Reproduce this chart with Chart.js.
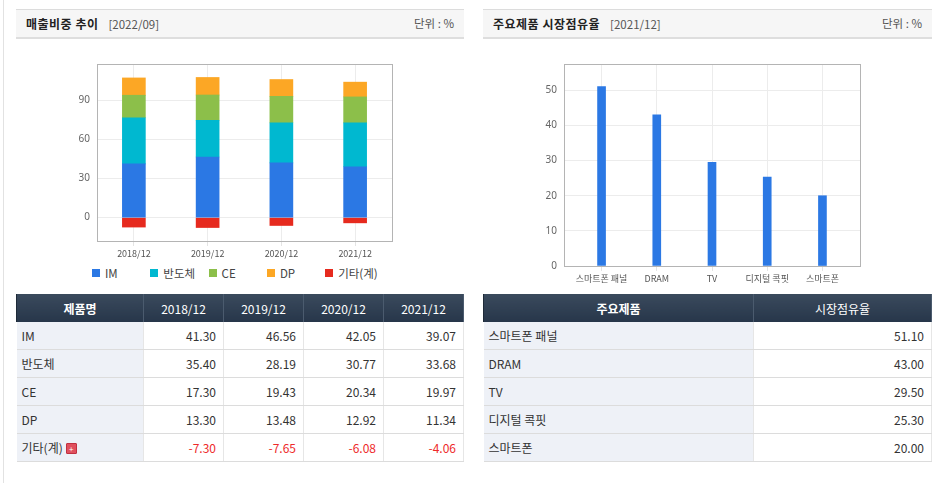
<!DOCTYPE html>
<html>
<head>
<meta charset="utf-8">
<script src="https://cdn.jsdelivr.net/npm/chart.js@4"></script>
<style>
  body { margin: 0; width: 940px; height: 483px; background: #fff; position: relative; overflow: hidden;
         font-family: "Noto Sans CJK KR", "Noto Sans", sans-serif; color: #333; }
  .edge { position: absolute; left: 3px; top: 0; width: 1px; height: 483px; background: #e2e2e2; }
  .head { position: absolute; top: 9px; height: 27px; background: #f6f6f6;
          border-top: 1px solid #dcdcdc; border-bottom: 2px solid #dedede; }
  .head .t { position: absolute; left: 10px; top: 5px; font-size: 12px; font-weight: bold; color: #222; letter-spacing: 0.5px; }
  .head .d { font-weight: normal; color: #555; font-size: 11.5px; margin-left: 10px; letter-spacing: 0; }
  .head .u { position: absolute; right: 10px; top: 5px; font-size: 11.5px; color: #555; }
  canvas { position: absolute; }
  .legend { position: absolute; top: 265px; left: 92px; height: 16px; display: flex; }
  .legend div { width: 58.3px; font-size: 11.5px; color: #444; display: flex; align-items: center; white-space: nowrap; }
  .legend span { display: inline-block; width: 8px; height: 8px; margin-right: 5px; }
  table { position: absolute; top: 294px; border-collapse: collapse; font-size: 12px; }
  th { height: 28px; padding: 0; color: #fff; font-weight: normal; background: linear-gradient(#3a4a5d, #27364a);
       border-left: 1px solid #1e2a38; border-right: 1px solid #4b5b6e; font-size: 12px; }
  th.b { font-weight: bold; }
  td { height: 27px; padding: 0 7px; border-bottom: 1px solid #dcdcdc; border-right: 1px solid #e6e6e6; text-align: right; background: #fff; }
  td.n { text-align: left; background: #eef1f7; padding-left: 5px; }
  td.neg { color: #ee2a2a; }
  .plus { display: inline-block; width: 9px; height: 9px; background: #e0505e; border: 1px solid #c03040; color: #fff;
          font-size: 8px; line-height: 9px; text-align: center; vertical-align: 1px; margin-left: 3px; border-radius: 1px; }
</style>
</head>
<body>
<div class="edge"></div>

<div class="head" style="left:16px;width:448px;">
  <div class="t">매출비중 추이<span class="d">[2022/09]</span></div>
  <div class="u">단위 : %</div>
</div>
<div class="head" style="left:483px;width:449px;">
  <div class="t">주요제품 시장점유율<span class="d">[2021/12]</span></div>
  <div class="u">단위 : %</div>
</div>

<canvas id="mix" style="left:16px;top:44px;width:448px;height:220px;" width="448" height="220"></canvas>
<div class="legend" id="mixLegend"></div>
<canvas id="share" style="left:483px;top:44px;width:449px;height:245px;" width="449" height="245"></canvas>

<table id="mixTable" style="left:16px;width:448px;"></table>
<table id="shareTable" style="left:483px;width:449px;"></table>

<script>
// 매출비중 추이
const periods = ['2018/12', '2019/12', '2020/12', '2021/12'];
const segmentNames = ['IM', '반도체', 'CE', 'DP', '기타(계)'];
const imValues = [41.30, 46.56, 42.05, 39.07];
const semiValues = [35.40, 28.19, 30.77, 33.68];
const ceValues = [17.30, 19.43, 20.34, 19.97];
const dpValues = [13.30, 13.48, 12.92, 11.34];
const etcValues = [-7.30, -7.65, -6.08, -4.06];
const segmentColors = ['#2b78e4', '#00b8d0', '#8cbf4a', '#fca725', '#e62a1e'];
const mixTicks = [0, 30, 60, 90];

// 주요제품 시장점유율
const products = ['스마트폰 패널', 'DRAM', 'TV', '디지털 콕핏', '스마트폰'];
const shareValues = [51.10, 43.00, 29.50, 25.30, 20.00];
const shareTicks = [0, 10, 20, 30, 40, 50];

const frame = {
  id: 'frame',
  afterDatasetsDraw(chart) {
    const a = chart.chartArea, c = chart.ctx;
    c.save();
    c.strokeStyle = '#b4b4b4';
    c.lineWidth = 1;
    c.strokeRect(Math.round(a.left) + 0.5, Math.round(a.top) + 0.5, Math.round(a.right - a.left), Math.round(a.bottom - a.top));
    c.restore();
  }
};

const xGrid = { offset: false, color: '#ececec', tickLength: 5, tickColor: '#e4e4e4' };
const xTickFont = { size: 9, family: 'Noto Sans CJK KR' };

function yAxis(min, max, ticks) {
  return {
    stacked: true, min: min, max: max,
    afterBuildTicks: s => { s.ticks = ticks.map(v => ({ value: v })); },
    grid: { color: '#ececec', drawTicks: false },
    border: { display: false },
    ticks: { color: '#666', font: { size: 10, family: 'Noto Sans' }, padding: 7 },
    afterFit: s => { s.width = 30; }
  };
}

const common = {
  responsive: false,
  animation: false,
  plugins: { legend: { display: false }, tooltip: { enabled: false } },
  layout: { padding: { left: 51, right: 72, top: 20, bottom: 0 } }
};

const mixSeries = [imValues, semiValues, ceValues, dpValues, etcValues];
new Chart(document.getElementById('mix'), {
  type: 'bar',
  data: {
    labels: periods,
    datasets: mixSeries.map((d, i) => ({
      label: segmentNames[i], data: d, backgroundColor: segmentColors[i], barThickness: 23, borderWidth: 0
    }))
  },
  options: Object.assign({}, common, {
    scales: {
      x: {
        stacked: true, grid: xGrid, border: { display: false },
        ticks: { color: '#555', font: xTickFont, padding: 2, maxRotation: 0, autoSkip: false },
        afterFit: s => { s.height = 23; }
      },
      y: yAxis(-18, 118, mixTicks)
    }
  }),
  plugins: [frame]
});

// 오른쪽 차트는 양끝 여백이 넓어서 선형 x축에 인덱스로 배치
new Chart(document.getElementById('share'), {
  type: 'bar',
  data: {
    datasets: [{
      label: '시장점유율',
      data: shareValues.map((v, i) => ({ x: i, y: v })),
      backgroundColor: '#2b78e4', barThickness: 8, borderWidth: 0
    }]
  },
  options: Object.assign({}, common, {
    scales: {
      x: {
        type: 'linear', offset: false, min: -0.68, max: products.length - 1 + 0.68,
        afterBuildTicks: s => { s.ticks = products.map((p, i) => ({ value: i })); },
        grid: xGrid, border: { display: false },
        ticks: { color: '#555', font: xTickFont, padding: 2, maxRotation: 0, autoSkip: false,
                 callback: v => products[v] },
        afterFit: s => { s.height = 23; }
      },
      y: yAxis(0, 57.5, shareTicks)
    }
  }),
  plugins: [frame]
});

// legend
const lg = document.getElementById('mixLegend');
segmentNames.forEach((n, i) => {
  const d = document.createElement('div');
  d.innerHTML = '<span style="background:' + segmentColors[i] + '"></span>' + n;
  lg.appendChild(d);
});

// tables
const fmt = v => v.toFixed(2);
let h = '<tr><th class="b" style="width:126px">제품명</th>' + periods.map(p => '<th>' + p + '</th>').join('') + '</tr>';
mixSeries.forEach((d, i) => {
  const last = i === mixSeries.length - 1;
  h += '<tr><td class="n">' + segmentNames[i] + (last ? '<span class="plus">+</span>' : '') + '</td>' +
       d.map(v => '<td' + (v < 0 ? ' class="neg"' : '') + '>' + fmt(v) + '</td>').join('') + '</tr>';
});
document.getElementById('mixTable').innerHTML = h;

let s = '<tr><th class="b" style="width:269px">주요제품</th><th>시장점유율</th></tr>';
products.forEach((p, i) => { s += '<tr><td class="n">' + p + '</td><td>' + fmt(shareValues[i]) + '</td></tr>'; });
document.getElementById('shareTable').innerHTML = s;
</script>
</body>
</html>
